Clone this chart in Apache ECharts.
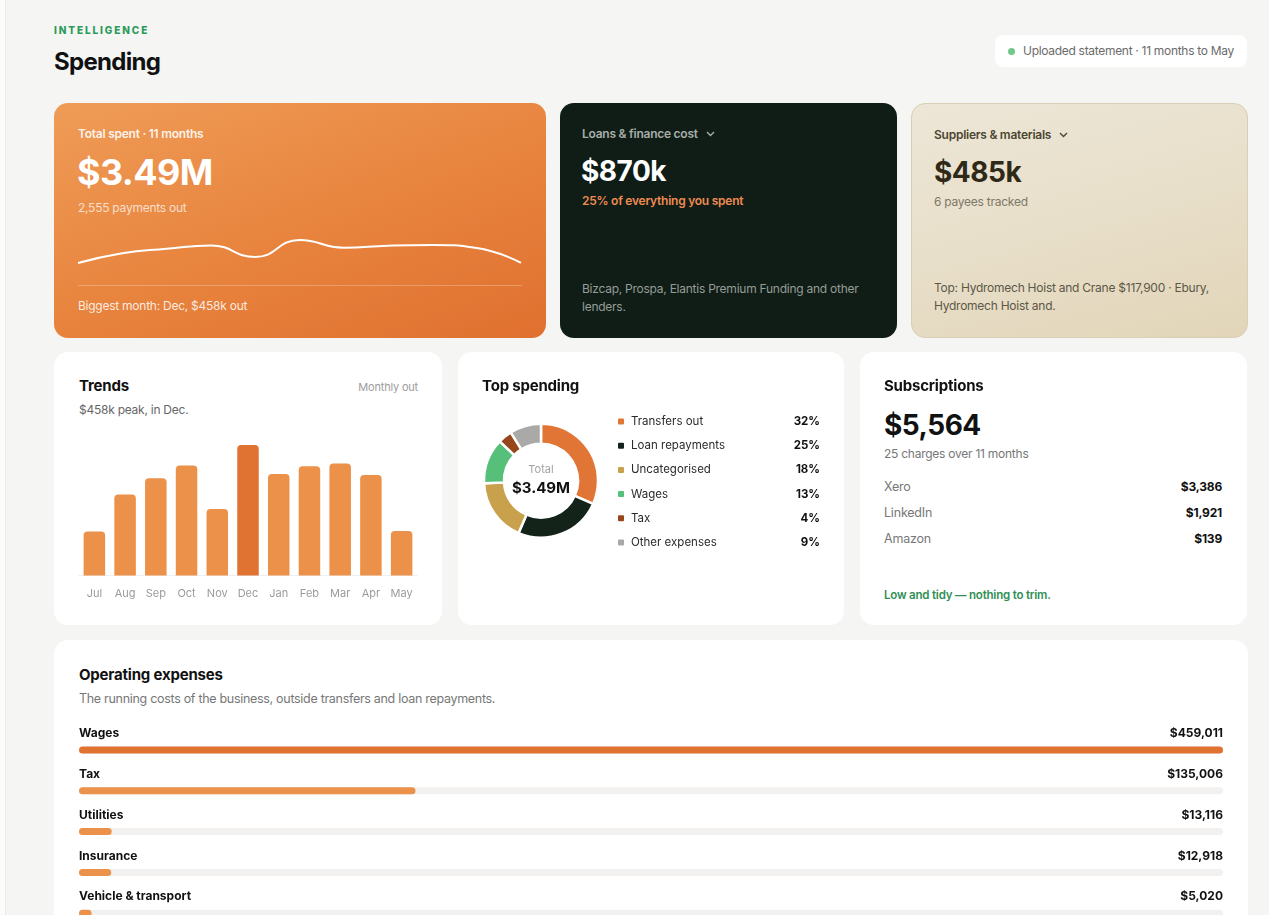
<!DOCTYPE html>
<html>
<head>
<meta charset="utf-8">
<title>Spending</title>
<script src="https://cdn.jsdelivr.net/npm/echarts@6/dist/echarts.min.js"></script>
<style>
  * { box-sizing: border-box; margin: 0; padding: 0; }
  html, body { width: 1269px; height: 915px; overflow: hidden; background: #fbfbfa; font-family: Inter, 'Noto Sans', sans-serif; color: #111; }
  .page { position: absolute; left: 5px; top: 0; width: 1264px; height: 915px; background: #f5f5f3; border-left: 1px solid #ebebe9; }
  .t { position: absolute; white-space: nowrap; }
  .card { position: absolute; border-radius: 14px; overflow: hidden; background: #fff; }
  .chart { position: absolute; }
  .title { font-size: 15px; line-height: 18px; font-weight: 700; color: #111; letter-spacing: -0.2px; }
  .sub { font-size: 12px; line-height: 14px; letter-spacing: -0.25px; }
  .badge { position: absolute; left: 995px; top: 35px; width: 252px; height: 32px; background: #fff; border-radius: 8px; }
</style>
</head>
<body>
<div class="page"></div>

<!-- Header -->
<div class="t" style="left:54px;top:24px;font-size:10px;line-height:12px;font-weight:800;letter-spacing:1.9px;color:#2b9a5a;">INTELLIGENCE</div>
<div class="t" style="left:54px;top:49px;font-size:24px;line-height:26px;font-weight:700;letter-spacing:-0.7px;color:#111;">Spending</div>
<div class="badge">
  <div class="t" style="left:13px;top:13px;width:7px;height:7px;border-radius:50%;background:#71c88b;"></div>
  <div class="t" style="left:28px;top:9px;font-size:12px;line-height:14px;letter-spacing:-0.3px;color:#6b6b6b;">Uploaded statement · 11 months to May</div>
</div>

<!-- Total spent -->
<div class="card" style="left:54px;top:103px;width:492px;height:235px;background:linear-gradient(160deg,#ef9c57 0%,#e8853f 50%,#e0702f 100%);">
  <div class="t sub" style="left:24px;top:24px;font-weight:600;color:rgba(255,255,255,0.9);">Total spent · 11 months</div>
  <div class="t" style="left:23px;top:51px;font-size:36px;line-height:36px;font-weight:700;letter-spacing:-0.6px;color:#fff;">$3.49M</div>
  <div class="t sub" style="left:24px;top:98px;color:rgba(255,255,255,0.72);">2,555 payments out</div>
  <div id="spark" class="chart" style="left:0;top:100px;width:492px;height:80px;"></div>
  <div class="t" style="left:24px;top:182px;width:444px;height:1px;background:rgba(255,255,255,0.25);"></div>
  <div class="t sub" style="left:24px;top:196px;color:rgba(255,255,255,0.85);">Biggest month: Dec, $458k out</div>
</div>

<!-- Loans -->
<div class="card" style="left:560px;top:103px;width:337px;height:235px;background:#101d16;">
  <div class="t sub" style="left:22px;top:24px;font-weight:600;color:#a7ada9;">Loans &amp; finance cost
    <svg width="9" height="6" viewBox="0 0 9 6" style="margin-left:5px;vertical-align:1px"><path d="M1 1 L4.5 4.5 L8 1" fill="none" stroke="#a7ada9" stroke-width="1.4"/></svg></div>
  <div class="t" style="left:21px;top:54px;font-size:28px;line-height:28px;font-weight:700;letter-spacing:-0.5px;color:#fff;">$870k</div>
  <div class="t sub" style="left:22px;top:91px;font-weight:600;color:#ee8b52;">25% of everything you spent</div>
  <div class="t" style="left:22px;top:177px;font-size:12px;line-height:18px;letter-spacing:-0.25px;color:#959c97;">Bizcap, Prospa, Elantis Premium Funding and other<br>lenders.</div>
</div>

<!-- Suppliers -->
<div class="card" style="left:911px;top:103px;width:337px;height:235px;background:linear-gradient(165deg,#ede6d7 0%,#e8dfca 50%,#e2d5b8 100%);border:1px solid #d9cfb6;">
  <div class="t sub" style="left:22px;top:24px;font-weight:600;color:#4b4631;">Suppliers &amp; materials
    <svg width="9" height="6" viewBox="0 0 9 6" style="margin-left:5px;vertical-align:1px"><path d="M1 1 L4.5 4.5 L8 1" fill="none" stroke="#4b4631" stroke-width="1.4"/></svg></div>
  <div class="t" style="left:22px;top:54px;font-size:28px;line-height:28px;font-weight:700;letter-spacing:-0.5px;color:#2e2a17;">$485k</div>
  <div class="t sub" style="left:22px;top:91px;color:#7d7868;">6 payees tracked</div>
  <div class="t" style="left:22px;top:175px;font-size:12px;line-height:18px;letter-spacing:-0.25px;color:#5c5747;">Top: Hydromech Hoist and Crane $117,900 · Ebury,<br>Hydromech Hoist and.</div>
</div>

<!-- Trends -->
<div class="card" style="left:54px;top:352px;width:388px;height:273px;">
  <div class="t title" style="left:25px;top:25px;">Trends</div>
  <div class="t" style="right:24px;top:28px;font-size:11px;line-height:14px;letter-spacing:-0.2px;color:#9d9d9d;">Monthly out</div>
  <div class="t sub" style="left:25px;top:51px;color:#666;">$458k peak, in Dec.</div>
  <div id="trends" class="chart" style="left:0;top:80px;width:388px;height:190px;"></div>
</div>

<!-- Top spending -->
<div class="card" style="left:458px;top:352px;width:386px;height:273px;">
  <div id="donut" class="chart" style="left:0;top:0;width:386px;height:273px;"></div>
  <div class="t title" style="left:24px;top:25px;">Top spending</div>
</div>

<!-- Subscriptions -->
<div class="card" style="left:860px;top:352px;width:387px;height:273px;">
  <div class="t title" style="left:24px;top:25px;">Subscriptions</div>
  <div class="t" style="left:24px;top:59px;font-size:28px;line-height:28px;font-weight:700;letter-spacing:-0.5px;color:#111;">$5,564</div>
  <div class="t sub" style="left:24px;top:95px;color:#777;">25 charges over 11 months</div>
  <div id="subs"></div>
  <div class="t" style="left:24px;top:236px;font-size:11.5px;line-height:14px;font-weight:600;letter-spacing:-0.2px;color:#2f8f55;">Low and tidy — nothing to trim.</div>
</div>

<!-- Operating expenses -->
<div class="card" style="left:54px;top:640px;width:1194px;height:320px;">
  <div class="t title" style="left:25px;top:26px;">Operating expenses</div>
  <div class="t" style="left:25px;top:51px;font-size:12.5px;line-height:16px;letter-spacing:-0.3px;color:#777;">The running costs of the business, outside transfers and loan repayments.</div>
  <div id="opex" class="chart" style="left:0;top:80px;width:1194px;height:240px;"></div>
</div>

<script>
// monthly money out, $k
const months = ['Jul', 'Aug', 'Sep', 'Oct', 'Nov', 'Dec', 'Jan', 'Feb', 'Mar', 'Apr', 'May'];
const monthlyOut = [154, 284, 341, 386, 233, 458, 356, 383, 393, 353, 156];

// top spending split, %
const spendCats = ['Transfers out', 'Loan repayments', 'Uncategorised', 'Wages', 'Tax', 'Other expenses'];
const spendPct = [32, 25, 18, 13, 4, 9];
const spendColors = ['#e07535', '#13231a', '#c9a04c', '#56c07b', '#97461b', '#a9a9a8'];

// subscriptions, $
const subsNames = ['Xero', 'LinkedIn', 'Amazon'];
const subsValues = [3386, 1921, 139];

// operating expenses, $
const opexCats = ['Wages', 'Tax', 'Utilities', 'Insurance', 'Vehicle & transport'];
const opexValues = [459011, 135006, 13116, 12918, 5020];

const FONT = 'Inter, "Noto Sans", sans-serif';
const money = v => '$' + v.toLocaleString('en-US');

// subscription rows
const subsEl = document.getElementById('subs');
subsNames.forEach((name, i) => {
  const top = 127 + i * 26;
  subsEl.insertAdjacentHTML('beforeend',
    `<div class="t" style="left:24px;top:${top}px;font-size:12.5px;line-height:16px;letter-spacing:-0.2px;color:#777;">${name}</div>` +
    `<div class="t" style="right:25px;top:${top}px;font-size:12px;line-height:16px;font-weight:700;letter-spacing:-0.2px;color:#111;">${money(subsValues[i])}</div>`);
});

// sparkline in the orange card
const spark = echarts.init(document.getElementById('spark'));
spark.setOption({
  animation: false,
  grid: { left: 24, right: 25, top: 37, height: 23 },
  xAxis: { type: 'category', data: months, boundaryGap: false, show: false },
  yAxis: { type: 'value', min: 'dataMin', max: 'dataMax', show: false },
  series: [{
    type: 'line',
    data: monthlyOut,
    smooth: 0.5,
    symbol: 'none',
    lineStyle: { color: '#fff', width: 2 },
  }],
});

// monthly bars
const peak = Math.max(...monthlyOut);
const trends = echarts.init(document.getElementById('trends'));
trends.setOption({
  animation: false,
  grid: { left: 25, right: 25, top: 13, bottom: 46.5 },
  xAxis: {
    type: 'category',
    data: months,
    axisTick: { show: false },
    axisLine: { lineStyle: { color: '#efefed' } },
    axisLabel: { color: '#9b9b9b', fontSize: 11, margin: 13, fontFamily: FONT },
  },
  yAxis: { type: 'value', min: 0, max: 'dataMax', show: false },
  series: [{
    type: 'bar',
    data: monthlyOut,
    barWidth: '70%',
    itemStyle: {
      borderRadius: [4, 4, 0, 0],
      color: p => (p.value === peak ? '#e07332' : '#ec914a'),
    },
  }],
});

// donut + legend
const donut = echarts.init(document.getElementById('donut'));
donut.setOption({
  animation: false,
  legend: {
    orient: 'vertical',
    left: 153,
    top: 58.5,
    itemWidth: 8,
    itemHeight: 8,
    itemGap: 12.2,
    icon: 'roundRect',
    selectedMode: false,
    data: spendCats,
    formatter: name => `{n|${name}}{p|${spendPct[spendCats.indexOf(name)]}%}`,
    textStyle: {
      padding: [0, 0, 0, 1],
      rich: {
        n: { width: 159, fontSize: 11.5, lineHeight: 14, color: '#2b2b2b', fontFamily: FONT },
        p: { width: 30, align: 'right', fontSize: 11.5, lineHeight: 14, fontWeight: 'bold', color: '#111', fontFamily: FONT },
      },
    },
  },
  graphic: [
    { type: 'text', x: 83, y: 117.5, style: { text: 'Total', fill: '#a3a3a3', font: '11px ' + FONT, align: 'center', verticalAlign: 'middle' } },
    { type: 'text', x: 83, y: 136, style: { text: '$3.49M', fill: '#111', font: 'bold 15px ' + FONT, align: 'center', verticalAlign: 'middle' } },
  ],
  series: [{
    type: 'pie',
    center: [83, 128.7],
    radius: [37, 57],
    startAngle: 90,
    clockwise: true,
    label: { show: false },
    labelLine: { show: false },
    emphasis: { disabled: true },
    itemStyle: { borderColor: '#fff', borderWidth: 2.5 },
    data: spendCats.map((name, i) => ({ name, value: spendPct[i], itemStyle: { color: spendColors[i] } })),
  }],
});

// operating expense bars
const opex = echarts.init(document.getElementById('opex'));
const rowLabel = {
  inside: true,
  margin: 0,
  verticalAlign: 'bottom',
  padding: [0, 0, 10.5, 0],
  color: '#111',
  fontSize: 12,
  fontWeight: 'bold',
  fontFamily: FONT,
};
opex.setOption({
  animation: false,
  grid: { left: 25, right: 25, top: 9.6, height: 204 },
  xAxis: { type: 'value', min: 0, max: 'dataMax', show: false },
  yAxis: [
    {
      type: 'category', data: opexCats, inverse: true, position: 'left',
      axisLine: { show: false }, axisTick: { show: false },
      axisLabel: { ...rowLabel, align: 'left' },
    },
    {
      type: 'category', data: opexValues.map(money), inverse: true, position: 'right',
      axisLine: { show: false }, axisTick: { show: false },
      axisLabel: { ...rowLabel, align: 'right' },
    },
  ],
  series: [{
    type: 'bar',
    data: opexValues,
    barWidth: 7,
    showBackground: true,
    backgroundStyle: { color: '#f2f1ef', borderRadius: 4 },
    itemStyle: {
      borderRadius: 4,
      color: p => (p.dataIndex === 0 ? '#e07332' : '#ec914a'),
    },
  }],
});
</script>
</body>
</html>
